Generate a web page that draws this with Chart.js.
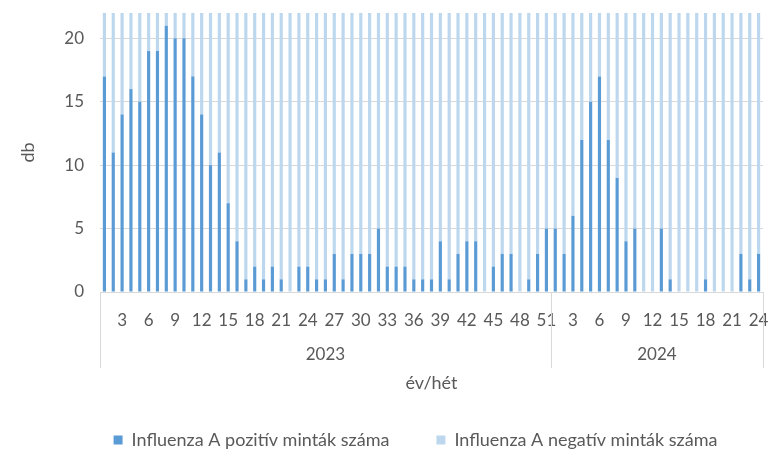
<!DOCTYPE html>
<html lang="hu">
<head>
  <meta charset="UTF-8">
  <title>Influenza A minták</title>
  <script src="https://cdn.jsdelivr.net/npm/chart.js"></script>
  <style>
    body {
      margin: 0;
      padding: 0;
      background: #fff;
    }
    .chart-box {
      width: 772px;
      height: 472px;
      position: relative;
    }
  </style>
</head>
<body>
  <div class="chart-box">
    <canvas id="fluChart"></canvas>
  </div>

  <script>
    // hetek: 2023-ban 1-51, 2024-ben 1-24
    const years = ['2023', '2024'];
    const weeks2023 = Array.from({ length: 51 }, (_, i) => String(i + 1));
    const weeks2024 = Array.from({ length: 24 }, (_, i) => String(i + 1));

    const positive2023 = [17, 11, 14, 16, 15, 19, 19, 21, 20, 20, 17, 14, 10, 11, 7, 4, 1, 2, 1, 2,
                          1, 0, 2, 2, 1, 1, 3, 1, 3, 3, 3, 5, 2, 2, 2, 1, 1, 1, 4, 1,
                          3, 4, 4, 0, 2, 3, 3, 0, 1, 3, 5];
    const positive2024 = [5, 3, 6, 12, 15, 17, 12, 9, 4, 5, 0, 0, 5, 1, 0, 0, 0, 1, 0, 0,
                          0, 3, 1, 3];

    // a negatív minták oszlopai a 22-es felső határ fölé nyúlnak
    const negative2023 = [98, 104, 112, 120, 118, 126, 131, 122, 117, 109, 101, 96, 88, 84, 79, 73, 70, 66, 64, 61,
                          58, 55, 57, 52, 49, 47, 50, 46, 48, 51, 53, 56, 54, 58, 60, 62, 65, 67, 71, 74,
                          78, 80, 83, 86, 85, 88, 92, 90, 95, 99, 103];
    const negative2024 = [110, 114, 118, 121, 117, 112, 106, 100, 94, 90, 86, 83, 80, 77, 74, 71, 69, 66, 64, 62,
                          60, 58, 57, 55];

    const yTicks = [0, 5, 10, 15, 20];

    const labels = weeks2023.concat(weeks2024);
    const positive = positive2023.concat(positive2024);
    const negative = negative2023.concat(negative2024);

    const textColor = '#595959';
    const gridColor = '#d9d9d9';
    const fontFamily = 'Lato, "Open Sans", sans-serif';

    // második sor az x tengelyen: évek és elválasztó vonalak
    const yearRows = {
      id: 'yearRows',
      afterLayout(chart) {
        // a jelmagyarázat a rajzterület közepéhez igazodik
        chart.legend.left += 34;
        chart.legend.right += 34;
      },
      afterDraw(chart) {
        const { ctx, chartArea, scales: { x } } = chart;
        const split = (x.getPixelForValue(weeks2023.length - 1) + x.getPixelForValue(weeks2023.length)) / 2;
        const edges = [chartArea.left, split, chartArea.right];
        const top = chartArea.bottom;
        const bottom = chartArea.bottom + 76;

        ctx.save();
        ctx.strokeStyle = gridColor;
        ctx.lineWidth = 1;
        edges.forEach(px => {
          const xx = Math.round(px) + 0.5;
          ctx.beginPath();
          ctx.moveTo(xx, top);
          ctx.lineTo(xx, bottom);
          ctx.stroke();
        });

        ctx.fillStyle = textColor;
        ctx.font = '17px ' + fontFamily;
        ctx.textAlign = 'center';
        ctx.textBaseline = 'middle';
        years.forEach((year, i) => {
          ctx.fillText(year, (edges[i] + edges[i + 1]) / 2, chartArea.bottom + 63);
        });
        ctx.restore();
      }
    };

    new Chart(document.getElementById('fluChart'), {
      type: 'bar',
      data: {
        labels,
        datasets: [
          {
            label: 'Influenza A pozitív minták száma',
            data: positive,
            backgroundColor: '#5b9bd5',
            barPercentage: 0.36,
            categoryPercentage: 1
          },
          {
            label: 'Influenza A negatív minták száma',
            data: negative,
            backgroundColor: '#bdd7ee',
            barPercentage: 0.36,
            categoryPercentage: 1
          }
        ]
      },
      options: {
        responsive: true,
        maintainAspectRatio: false,
        animation: false,
        layout: { padding: { top: 13, right: 9, left: 0, bottom: 13 } },
        plugins: {
          legend: {
            position: 'bottom',
            labels: {
              boxWidth: 9,
              boxHeight: 9,
              padding: 47,
              color: textColor,
              font: { family: fontFamily, size: 18 }
            }
          },
          tooltip: { enabled: false }
        },
        scales: {
          x: {
            stacked: true,
            grid: { display: false, drawTicks: false },
            border: { display: true, color: gridColor },
            ticks: {
              autoSkip: false,
              maxRotation: 0,
              padding: 18,
              color: textColor,
              font: { family: fontFamily, size: 17 },
              callback(value, index) {
                const w = Number(labels[index]);
                return w % 3 === 0 ? labels[index] : '';
              }
            },
            title: {
              display: true,
              text: 'év/hét',
              color: textColor,
              font: { family: fontFamily, size: 18 },
              padding: { top: 4, bottom: -10 }
            },
            afterFit(scale) {
              scale.height = 92;
              scale.paddingLeft = 0;
              scale.paddingRight = 0;
            }
          },
          y: {
            stacked: true,
            min: 0,
            max: 22,
            grid: { color: gridColor, drawTicks: false },
            border: { display: false },
            afterBuildTicks(scale) {
              scale.ticks = yTicks.map(v => ({ value: v }));
            },
            ticks: {
              padding: 16,
              color: textColor,
              font: { family: fontFamily, size: 17 }
            },
            title: {
              display: true,
              text: 'db',
              color: textColor,
              font: { family: fontFamily, size: 18 },
              padding: { top: 17 }
            },
            afterFit(scale) {
              scale.width = 100;
              scale.paddingTop = 0;
              scale.paddingBottom = 0;
            }
          }
        }
      },
      plugins: [yearRows]
    });
  </script>
</body>
</html>
